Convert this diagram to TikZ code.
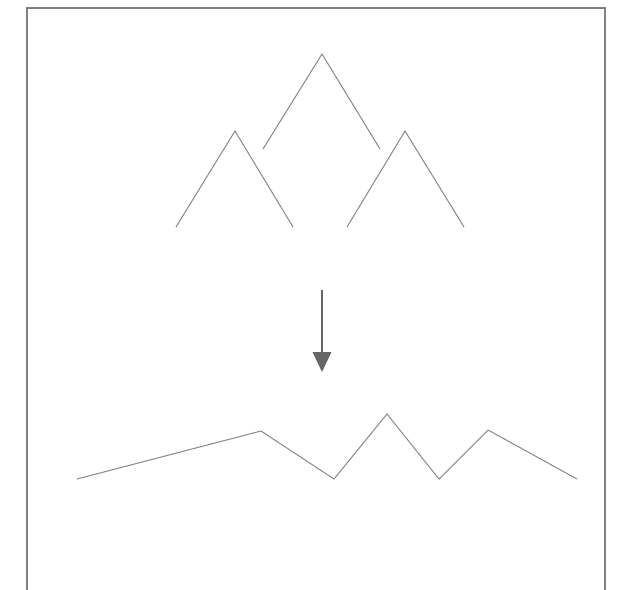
\documentclass[tikz,border=0pt]{standalone}
\usepackage{tikz}
\usetikzlibrary{arrows.meta}

\begin{document}
\begin{tikzpicture}[
  x=0.03cm, y=-0.03cm,
  frame/.style={draw=black!50, line width=1.4pt},
  ridge/.style={draw=black!45, line width=0.9pt, line join=miter},
  arr/.style={-{Triangle[length=0.6cm, width=0.55cm]}, draw=black!60, fill=black!60, line width=2pt}
]
\useasboundingbox (0,0) rectangle (624,589);
\clip (0,0) rectangle (624,589);

\draw[frame] (27,8) rectangle (605,600);

% three separate peaks
\coordinate (bigL) at (263,149);
\coordinate (bigT) at (322,54);
\coordinate (bigR) at (380,149);
\coordinate (leftL) at (176,227);
\coordinate (leftT) at (235,131);
\coordinate (leftR) at (293,227);
\coordinate (rightL) at (347,227);
\coordinate (rightT) at (405,131);
\coordinate (rightR) at (464,227);

\draw[ridge] (bigL) -- (bigT) -- (bigR);
\draw[ridge] (leftL) -- (leftT) -- (leftR);
\draw[ridge] (rightL) -- (rightT) -- (rightR);

% arrow down
\coordinate (from) at (322,290);
\coordinate (to) at (322,372);
\draw[arr] (from) -- (to);

% merged line
\coordinate (p1) at (77,479);
\coordinate (p2) at (261,431);
\coordinate (p3) at (334,479);
\coordinate (p4) at (387,414);
\coordinate (p5) at (439,479);
\coordinate (p6) at (488,430);
\coordinate (p7) at (577,479);
\draw[ridge] (p1) -- (p2) -- (p3) -- (p4) -- (p5) -- (p6) -- (p7);

\end{tikzpicture}
\end{document}
